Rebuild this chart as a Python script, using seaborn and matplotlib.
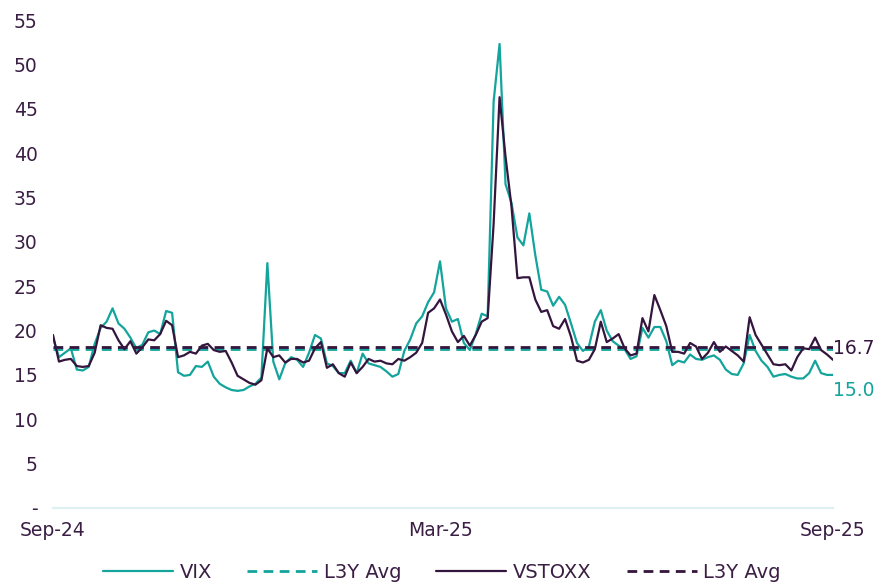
import numpy as np
import pandas as pd
import matplotlib
matplotlib.use("Agg")
import matplotlib.pyplot as plt
import seaborn as sns

# ---- data ----
vix = [19.2, 17.0, 17.5, 18.0, 15.6, 15.5, 15.9, 18.5, 20.3, 21.0,
       22.5, 20.8, 20.2, 19.2, 18.0, 18.4, 19.8, 20.0, 19.6, 22.2,
       22.0, 15.3, 14.9, 15.0, 16.0, 15.9, 16.5, 14.8, 14.0, 13.6,
       13.3, 13.2, 13.3, 13.7, 14.0, 14.7, 27.6, 16.5, 14.5, 16.3,
       17.0, 16.7, 15.9, 17.5, 19.5, 19.1, 16.3, 16.0, 15.2, 15.2,
       16.6, 15.2, 17.4, 16.3, 16.1, 15.9, 15.4, 14.8, 15.1, 17.7,
       19.0, 20.8, 21.6, 23.2, 24.3, 27.8, 22.5, 21.0, 21.3, 18.6,
       17.8, 19.6, 21.9, 21.6, 45.8, 52.3, 36.5, 34.4, 30.5, 29.6,
       33.2, 28.5, 24.6, 24.4, 22.8, 23.8, 22.9, 20.8, 18.6, 17.7,
       18.2, 21.0, 22.3, 20.0, 18.8, 18.3, 17.9, 16.8, 17.1, 20.3,
       19.2, 20.4, 20.4, 18.8, 16.1, 16.6, 16.4, 17.3, 16.8, 16.7,
       17.0, 17.2, 16.7, 15.6, 15.1, 15.0, 16.3, 19.5, 17.7, 16.6,
       15.9, 14.8, 15.0, 15.1, 14.8, 14.6, 14.6, 15.2, 16.6, 15.2,
       15.0, 15.0]
vstoxx = [19.5, 16.5, 16.7, 16.8, 16.0, 15.9, 16.0, 17.5, 20.6, 20.3,
          20.2, 18.9, 17.9, 18.8, 17.4, 18.1, 19.0, 18.9, 19.6, 21.1,
          20.6, 17.0, 17.2, 17.6, 17.4, 18.3, 18.5, 17.8, 17.6, 17.7,
          16.4, 14.9, 14.5, 14.1, 13.9, 14.4, 18.0, 17.0, 17.2, 16.4,
          16.8, 16.8, 16.4, 16.6, 18.0, 18.7, 15.8, 16.2, 15.2, 14.8,
          16.4, 15.2, 15.9, 16.8, 16.5, 16.6, 16.3, 16.2, 16.8, 16.6,
          17.0, 17.5, 18.6, 22.0, 22.5, 23.5, 21.8, 19.9, 18.7, 19.4,
          18.3, 19.5, 21.0, 21.4, 32.0, 46.3, 39.6, 34.0, 25.9, 26.0,
          26.0, 23.5, 22.1, 22.3, 20.5, 20.2, 21.3, 19.3, 16.6, 16.4,
          16.7, 17.9, 21.0, 18.7, 19.1, 19.6, 18.0, 17.2, 17.4, 21.4,
          19.9, 24.0, 22.3, 20.5, 17.6, 17.6, 17.4, 18.6, 18.2, 16.8,
          17.5, 18.7, 17.6, 18.2, 17.7, 17.2, 16.5, 21.5, 19.5, 18.4,
          17.3, 16.2, 16.1, 16.2, 15.5, 17.0, 18.0, 17.9, 19.2, 17.8,
          17.3, 16.7]
vix_avg = 17.9
vstoxx_avg = 18.2
start_date, end_date = "2024-09-10", "2025-09-11"
y_ticks = [0, 5, 10, 15, 20, 25, 30, 35, 40, 45, 50, 55]
y_tick_labels = ["-", "5", "10", "15", "20", "25", "30", "35", "40", "45", "50", "55"]
end_labels = ["16.7", "15.0"]

TEAL = "#13A49C"
PURPLE = "#34153D"
TEXT = "#3A1E44"

dates = pd.date_range(start_date, end_date, periods=len(vix))
df = pd.DataFrame({
    "date": dates,
    "VIX": vix,
    "VIX_avg": [vix_avg] * len(vix),
    "VSTOXX": vstoxx,
    "VSTOXX_avg": [vstoxx_avg] * len(vix),
})

sns.set_theme(style="white")
plt.rcParams["font.family"] = ["DejaVu Sans"]

fig = plt.figure(figsize=(8.87, 5.85), dpi=100)
ax = fig.add_axes([53 / 887, 1 - 508 / 585, (833 - 53) / 887, (508 - 20) / 585])

sns.lineplot(data=df, x="date", y="VIX", ax=ax, color=TEAL, lw=1.6, label="VIX")
sns.lineplot(data=df, x="date", y="VIX_avg", ax=ax, color=TEAL, lw=2.0,
             label="L3Y Avg")
sns.lineplot(data=df, x="date", y="VSTOXX", ax=ax, color=PURPLE, lw=1.6, label="VSTOXX")
sns.lineplot(data=df, x="date", y="VSTOXX_avg", ax=ax, color=PURPLE, lw=2.0,
             label="L3Y Avg")
lines = ax.get_lines()
lines[1].set_linestyle((0, (3.5, 2.3)))
lines[3].set_linestyle((0, (3.5, 2.3)))

ax.set_xlim(dates[0], dates[-1])
ax.set_ylim(0, 55)
ax.set_yticks(y_ticks)
ax.set_yticklabels(y_tick_labels)
mid = dates[len(dates) // 2 - 1]
ax.set_xticks([dates[0], mid, dates[-1]])
ax.set_xticklabels([d.strftime("%b-%y") for d in [dates[0], mid, dates[-1]]])
ax.tick_params(axis="y", length=0, pad=11, labelsize=13.5, labelcolor=TEXT)
ax.tick_params(axis="x", length=0, pad=9, labelsize=13.5, labelcolor=TEXT)
ax.set_xlabel("")
ax.set_ylabel("")
for s in ["top", "right", "left"]:
    ax.spines[s].set_visible(False)
ax.spines["bottom"].set_color("#DDF1F2")
ax.spines["bottom"].set_linewidth(1.6)

ax.annotate(end_labels[0], xy=(dates[-1], vstoxx[-1]), xytext=(0, 8),
            textcoords="offset points", color=PURPLE, fontsize=13.5,
            ha="left", va="center", annotation_clip=False)
ax.annotate(end_labels[1], xy=(dates[-1], vix[-1]), xytext=(0, -11),
            textcoords="offset points", color=TEAL, fontsize=13.5,
            ha="left", va="center", annotation_clip=False)

handles, labels = ax.get_legend_handles_labels()
ax.legend_.remove()
fig.legend(handles, labels, loc="center", bbox_to_anchor=(0.498, 1 - 572 / 585),
           ncol=4, frameon=False, fontsize=14, handlelength=3.6,
           handletextpad=0.35, columnspacing=1.8, labelcolor=TEXT)

fig.savefig("out.png", dpi=100)
